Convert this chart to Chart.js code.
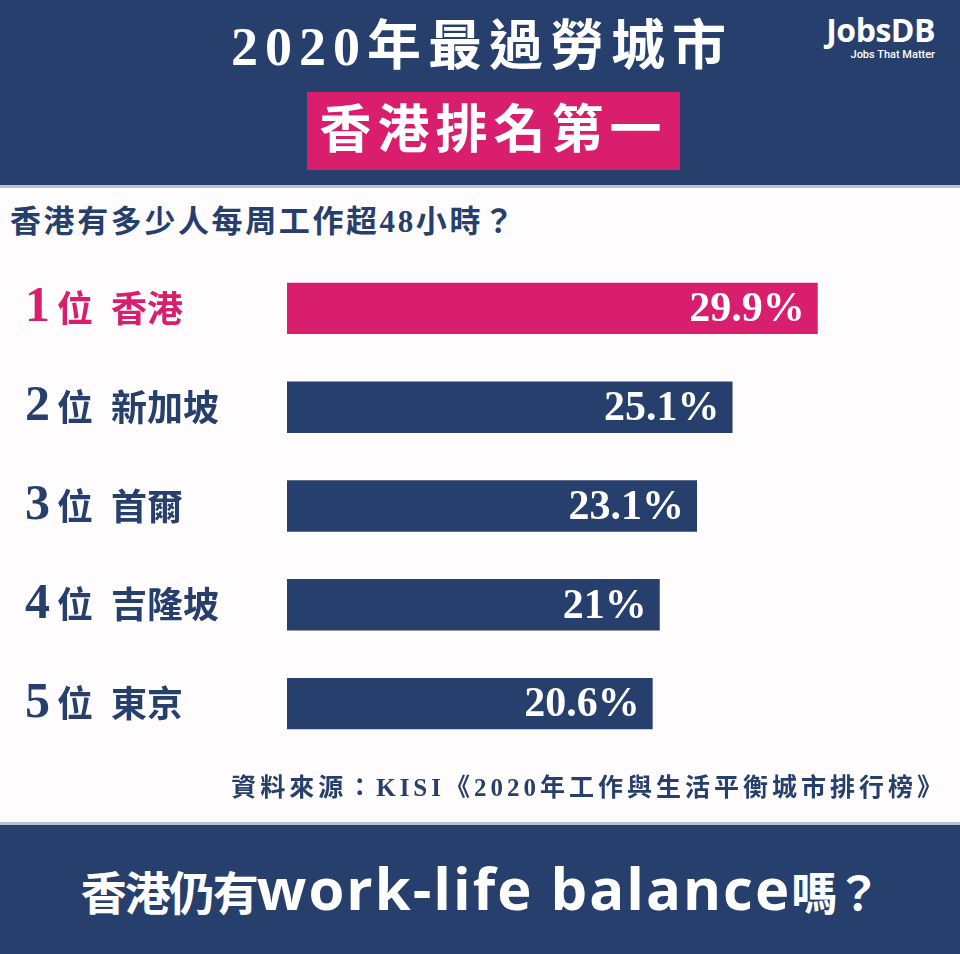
<!DOCTYPE html>
<html>
<head>
<meta charset="utf-8">
<script src="https://cdn.jsdelivr.net/npm/chart.js@4/dist/chart.umd.min.js"></script>
<style>
  html, body { margin: 0; padding: 0; }
  body { width: 960px; height: 954px; position: relative; overflow: hidden; background: #fefcfd; }
  .abs { position: absolute; }
  .serif { font-family: 'Liberation Serif', 'Noto Sans CJK TC', serif; font-weight: 700; }
  #header { left: 0; top: 0; width: 960px; height: 185px; background: #273f6c; border-bottom: 3px solid #b9c0cd; }
  #title { left: 0; top: 15px; width: 964px; text-align: center; color: #fff; font-size: 54px; line-height: 64px; letter-spacing: 7px; }
  #pinkbox { left: 307px; top: 92px; width: 373px; height: 78px; background: #d81e6c; color: #fff; font-size: 52px; line-height: 78px; text-align: center; letter-spacing: 6px; }
  #logo1 { right: 25px; top: 11px; color: #fff; font-family: 'Open Sans', Roboto, sans-serif; font-weight: 700; font-size: 32px; line-height: 38px; letter-spacing: -0.5px; }
  #logo2 { right: 25px; top: 48px; color: #fff; font-family: Roboto, 'Open Sans', sans-serif; font-weight: 500; font-size: 11px; line-height: 14px; }
  #subtitle { left: 10px; top: 202px; color: #273f6c; font-size: 31px; line-height: 40px; letter-spacing: 2.6px; }
  #source { right: 14px; top: 770px; color: #273f6c; font-size: 25px; line-height: 36px; letter-spacing: 4px; }
  #footer { left: 0; top: 822px; width: 960px; height: 132px; background: #273f6c; border-top: 3px solid #b9c0cd; }
  #foottext { left: 0; top: 855px; width: 960px; text-align: center; color: #fff; line-height: 66px; white-space: nowrap; }
  #foottext .c { font-family: 'Noto Sans CJK TC', sans-serif; font-weight: 700; font-size: 46px; letter-spacing: -2px; }
  #foottext .l { font-family: 'Open Sans', Roboto, sans-serif; font-weight: 700; font-size: 58px; letter-spacing: 2px; }
  #chartwrap { left: 0; top: 229px; width: 960px; height: 554px; }
</style>
</head>
<body>
<div id="header" class="abs"></div>
<div id="title" class="abs serif">2020年最過勞城市</div>
<div id="pinkbox" class="abs serif">香港排名第一</div>
<div id="logo1" class="abs">JobsDB</div>
<div id="logo2" class="abs">Jobs That Matter</div>
<div id="subtitle" class="abs serif">香港有多少人每周工作超48小時？</div>
<div id="chartwrap" class="abs"><canvas id="c" width="960" height="554"></canvas></div>
<div id="source" class="abs serif">資料來源：KISI《2020年工作與生活平衡城市排行榜》</div>
<div id="footer" class="abs"></div>
<div id="foottext" class="abs"><span class="c">香港仍有</span><span class="l">work-life balance</span><span class="c">嗎？</span></div>
<script>
// ---- data ----
const ranks = ['1', '2', '3', '4', '5'];
const cities = ['香港', '新加坡', '首爾', '吉隆坡', '東京'];
const values = [29.9, 25.1, 23.1, 21, 20.6];

const PINK = '#d81e6c';
const NAVY = '#273f6c';
const cityLabels = cities.map(c => '位\u2002' + c);
const barColors = values.map((v, i) => i === 0 ? PINK : NAVY);

const valueLabelPlugin = {
  id: 'valueLabels',
  afterDatasetsDraw(chart) {
    const ctx = chart.ctx;
    const meta = chart.getDatasetMeta(0);
    ctx.save();
    ctx.fillStyle = '#ffffff';
    ctx.font = "bold 42px 'Liberation Serif', serif";
    ctx.textAlign = 'right';
    ctx.textBaseline = 'middle';
    meta.data.forEach((bar, i) => {
      ctx.fillText(values[i] + '%', bar.x - 13, bar.y + 2);
    });
    ctx.restore();
  }
};

new Chart(document.getElementById('c'), {
  type: 'bar',
  data: {
    labels: cityLabels,
    datasets: [{
      data: values,
      backgroundColor: barColors,
      borderWidth: 0,
      barPercentage: 0.52,
      categoryPercentage: 1
    }]
  },
  options: {
    indexAxis: 'y',
    responsive: false,
    animation: false,
    events: [],
    layout: { padding: { left: 25, right: 105, top: 0, bottom: 0 } },
    plugins: { legend: { display: false }, tooltip: { enabled: false } },
    scales: {
      x: { display: false, min: 0, max: 32 },
      y: {
        position: 'left',
        weight: 0,
        grid: { display: false, drawTicks: false },
        border: { display: false },
        ticks: {
          crossAlign: 'far',
          padding: 0,
          color: (c) => c.index === 0 ? PINK : NAVY,
          font: { family: "'Noto Sans CJK TC', sans-serif", size: 36, weight: 'bold' }
        },
        afterFit: (s) => { s.width = 230; }
      },
      rank: {
        type: 'category',
        axis: 'y',
        labels: ranks,
        offset: true,
        position: 'left',
        weight: 1,
        grid: { display: false, drawTicks: false },
        border: { display: false },
        ticks: {
          crossAlign: 'far',
          padding: 0,
          color: (c) => c.index === 0 ? PINK : NAVY,
          font: { family: "'Liberation Serif', serif", size: 50, weight: 'bold' }
        },
        afterFit: (s) => { s.width = 32; }
      }
    }
  },
  plugins: [valueLabelPlugin]
});
</script>
</body>
</html>
